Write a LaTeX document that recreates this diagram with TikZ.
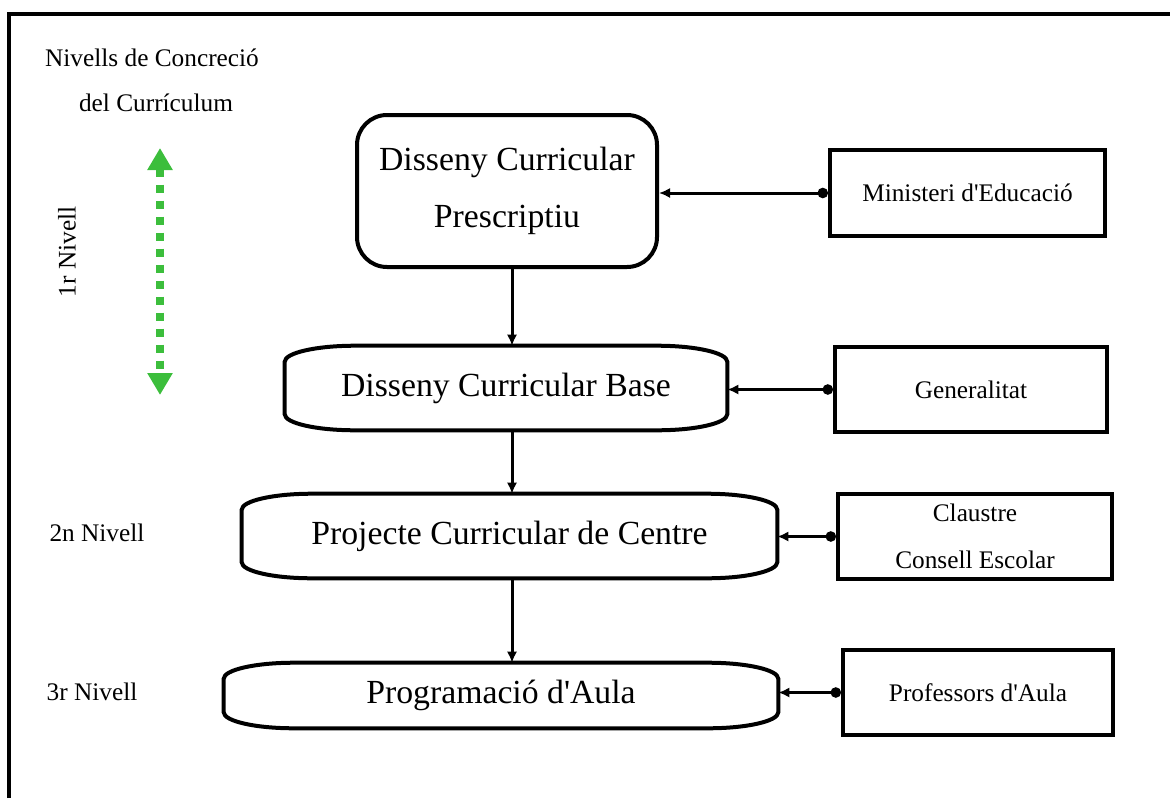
\documentclass[tikz,border=0pt]{standalone}
\usepackage{fontspec}
\setmainfont{Liberation Serif}
\usepackage{tikz}
\usetikzlibrary{arrows.meta, positioning}

\definecolor{levelgreen}{RGB}{60,190,60}

\tikzset{
  bigtext/.style={font=\fontsize{24}{41}\selectfont},
  smalltext/.style={font=\fontsize{18}{33}\selectfont},
  level/.style={bigtext, inner sep=0pt, align=center},
  agent/.style={smalltext, draw, line width=0.1cm, inner sep=0pt, align=center},
  flow/.style={line width=0.075cm, -{Latex[length=0.28cm, width=0.26cm]}},
  feed/.style={line width=0.075cm, {Circle[length=0.26cm]}-{Latex[length=0.28cm, width=0.26cm]}}
}

% outline with flattened corners for the lower levels
\newcommand{\levelframe}[1]{%
  \draw[line width=0.1cm] ([yshift=-0.4cm]#1.north west) -- ([yshift=0.4cm]#1.south west)
    arc[start angle=180, end angle=270, x radius=1.75cm, y radius=0.4cm]
    -- ([xshift=-1.75cm]#1.south east)
    arc[start angle=270, end angle=360, x radius=1.75cm, y radius=0.4cm]
    -- ([yshift=-0.4cm]#1.north east)
    arc[start angle=0, end angle=90, x radius=1.75cm, y radius=0.4cm]
    -- ([xshift=1.75cm]#1.north west)
    arc[start angle=90, end angle=180, x radius=1.75cm, y radius=0.4cm] -- cycle;}

\begin{document}
\begin{tikzpicture}
    \useasboundingbox (0,0) rectangle (29.25,-19.95);
    \draw[line width=0.1cm] (0.225,-19.95) -- (0.225,-0.35) -- (29.3,-0.35);

    % Levels
    \node[level, draw, line width=0.1cm, rounded corners=0.75cm,
          minimum width=7.5cm, minimum height=3.8cm] (DCP) at (12.675,-4.775)
          {Disseny Curricular\\Prescriptiu};
    \node[level, minimum width=11.05cm, minimum height=2.1cm] (DCB) at (12.65,-9.7)
          {Disseny Curricular Base};
    \node[level, minimum width=13.375cm, minimum height=2.1cm] (PCC) at (12.7375,-13.4)
          {Projecte Curricular de Centre};
    \node[level, minimum width=13.85cm, minimum height=1.625cm] (PA) at (12.525,-17.3875)
          {Programació d\textquotesingle Aula};
    \levelframe{DCB}
    \levelframe{PCC}
    \levelframe{PA}

    % Agents
    \node[agent, minimum width=6.875cm, minimum height=2.15cm] (Min) at (24.1875,-4.825)
          {Ministeri d\textquotesingle Educació};
    \node[agent, minimum width=6.8cm, minimum height=2.125cm] (Gen) at (24.275,-9.7375)
          {Generalitat};
    \node[agent, minimum width=6.85cm, minimum height=2.125cm] (Cla) at (24.375,-13.4125)
          {Claustre\\Consell Escolar};
    \node[agent, minimum width=6.75cm, minimum height=2.125cm] (Pro) at (24.45,-17.3125)
          {Professors d\textquotesingle Aula};

    % Labels on the left
    \node[smalltext] (title1) at (3.8,-1.45) {Nivells de Concreció};
    \node[smalltext] (title2) at (3.9,-2.575) {del Currículum};
    \node[smalltext, rotate=90] (N1) at (1.675,-6.3) {1r Nivell};
    \node[smalltext] (N2) at (2.425,-13.325) {2n Nivell};
    \node[smalltext] (N3) at (2.3,-17.3) {3r Nivell};

    \coordinate (lvtop) at (4.0,-3.7);
    \coordinate (lvbot) at (4.0,-9.875);
    \draw[levelgreen, line width=0.2cm, dash pattern=on 0.2cm off 0.2cm,
          {Triangle[length=0.55cm, width=0.6cm]}-{Triangle[length=0.55cm, width=0.6cm]}]
          (lvtop) -- (lvbot);

    % Connections
    \coordinate (trunk) at (12.8,0);
    \draw[flow] (DCP.south -| trunk) -- (DCB.north -| trunk);
    \draw[flow] (DCB.south -| trunk) -- (PCC.north -| trunk);
    \draw[flow] (PCC.south -| trunk) -- (PA.north -| trunk);

    \draw[feed] (Min.west) -- (Min.west -| DCP.east);
    \draw[feed] (Gen.west) -- (Gen.west -| DCB.east);
    \draw[feed] (Cla.west) -- (Cla.west -| PCC.east);
    \draw[feed] (Pro.west) -- (Pro.west -| PA.east);
\end{tikzpicture}
\end{document}
